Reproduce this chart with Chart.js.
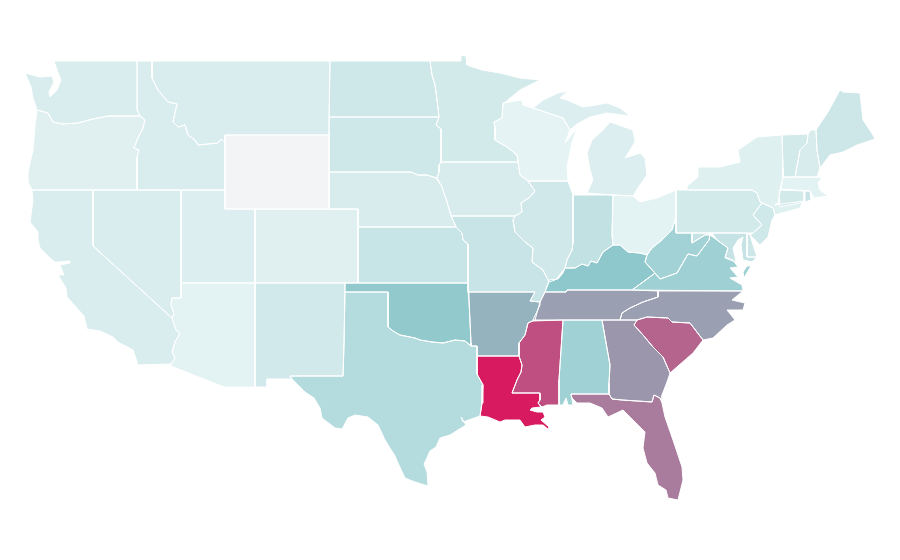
<!DOCTYPE html>
<html><head><meta charset="utf-8">
<style>html,body{margin:0;padding:0;background:#fff}canvas{display:block}</style>
<script src="https://cdn.jsdelivr.net/npm/chart.js@4"></script>
</head><body><canvas id="c" width="900" height="560"></canvas>
<script>
// State outlines in map units
const WA=[[54,61],[57,70],[60,78],[61,80],[57,90],[50,97],[49,92],[54,82],[52,76],[40,77],[25,73],[31,87],[33,98],[37,110],[48,113],[53,122],[62,124],[78,123],[93,119],[108,116],[140,116],[137,110],[137,61]];
const OR=[[37,110],[48,113],[53,122],[62,124],[78,123],[93,119],[108,116],[140,116],[145,120],[143,128],[138,138],[134,148],[139,150],[137,157],[137,190],[32,190],[28,182],[28,172],[33,150],[35,125]];
const CA=[[32,190],[93,190],[93,246],[172,318],[176,330],[180,333],[175,342],[172,352],[175,358],[171,364],[138,365],[133,350],[118,342],[113,337],[100,331],[87,329],[84,316],[67,297],[66,288],[58,275],[60,275],[64,275],[60,265],[70,263],[70,261],[58,262],[55,262],[50,258],[40,248],[38,240],[38,232],[30,222],[33,200]];
const NV=[[93,190],[181,190],[181,298],[172,298],[171,305],[174,314],[172,318],[93,246]];
const UT=[[181,190],[225,190],[225,209],[255,209],[255,283],[181,283]];
const AZ=[[181,283],[255,283],[255,387],[224,387],[171,366],[171,364],[175,358],[172,352],[175,342],[180,333],[176,330],[172,318],[174,314],[171,305],[172,298],[181,298]];
const NM=[[255,283],[345,283],[344,344],[343,376],[290,376],[292,379],[267,379],[267,387],[255,387]];
const TX=[[345,292],[388,292],[388,327],[393,331],[400,335],[405,336],[415,338],[420,340],[432,342],[443,343],[455,340],[465,341],[471,346],[477,346],[477,374],[483,385],[482,403],[480,416],[463,422],[461,417],[466,425],[450,435],[440,438],[436,447],[430,451],[426,460],[424,464],[427,472],[428,486],[415,482],[405,478],[398,463],[395,456],[385,440],[378,425],[368,417],[355,415],[348,418],[342,429],[335,428],[322,418],[320,408],[314,398],[305,392],[292,379],[290,376],[343,376],[344,344]];
const OK_=[[345,283],[468,283],[468,292],[469,300],[471,343],[471,346],[465,341],[455,340],[443,343],[432,342],[420,340],[415,338],[405,336],[400,335],[393,331],[388,327],[388,292],[345,292]];
const KS=[[358,227],[456,227],[462,233],[463,240],[468,244],[468,283],[358,283]];
const NE=[[329,172],[411,172],[418,175],[427,175],[436,178],[442,187],[447,202],[451,215],[456,227],[358,227],[358,209],[329,209]];
const CO=[[255,209],[358,209],[358,283],[255,283]];
const WY=[[225,135],[329,135],[329,209],[225,209]];
const MT=[[152,61],[330,61],[329,135],[225,135],[225,143],[221,139],[218,143],[198,145],[195,140],[188,135],[185,125],[178,127],[173,122],[175,113],[177,104],[168,102],[158,90],[152,78]];
const ID=[[137,61],[152,61],[152,78],[158,90],[168,102],[177,104],[175,113],[173,122],[178,127],[185,125],[188,135],[195,140],[198,145],[218,143],[221,139],[225,143],[225,190],[137,190],[137,157],[139,150],[134,148],[138,138],[143,128],[145,120],[140,116],[137,110]];
const ND=[[330,61],[430,61],[432,75],[435,85],[437,100],[439,117],[329,117]];
const SD=[[329,117],[439,117],[436,125],[441,129],[441,162],[439,165],[439,172],[437,178],[427,175],[418,175],[411,172],[329,172]];
const MN=[[430,61],[461,61],[461,55],[466,56],[467,65],[482,70],[500,73],[520,78],[540,80],[520,90],[503,104],[502,118],[494,122],[495,127],[495,140],[507,147],[517,155],[518,162],[441,162],[441,129],[436,125],[439,117],[437,100],[435,85],[432,75]];
const WI=[[503,103],[522,100],[523,105],[533,108],[548,113],[563,118],[570,130],[565,143],[577,128],[572,143],[567,167],[568,181],[528,181],[520,175],[518,162],[517,155],[507,147],[495,140],[495,127],[494,122],[502,118]];
const IA=[[441,162],[518,162],[520,175],[528,181],[535,191],[530,197],[521,203],[522,212],[515,216],[451,216],[447,202],[442,187],[437,178],[439,172],[439,165]];
const IL=[[528,181],[568,181],[573,195],[573,243],[572,250],[567,260],[565,268],[558,277],[555,280],[549,282],[543,270],[532,262],[533,248],[525,242],[515,232],[513,220],[515,216],[522,212],[521,203],[530,197],[535,191]];
const MO=[[451,216],[515,216],[513,220],[515,232],[525,242],[533,248],[532,262],[543,270],[549,282],[545,292],[540,302],[530,301],[535,292],[468,292],[468,244],[463,240],[462,233],[456,227]];
const AR=[[469,292],[535,292],[530,301],[540,302],[535,320],[528,323],[525,335],[519,343],[519,356],[477,356],[477,346],[471,346],[471,343],[469,300]];
const LA=[[477,356],[519,356],[522,365],[521,372],[517,380],[512,393],[540,393],[540,400],[538,403],[541,407],[532,408],[530,410],[537,412],[543,412],[545,417],[541,420],[549,427],[549,430],[543,425],[535,425],[525,427],[520,420],[510,420],[505,420],[500,422],[488,417],[480,416],[482,403],[483,385],[477,374]];
const MS=[[532,321],[563,320],[559,380],[559,405],[547,405],[542,407],[538,403],[540,400],[540,393],[512,393],[517,380],[521,372],[522,365],[519,356],[519,343],[525,335],[528,323]];
const AL=[[563,320],[602,320],[610,365],[609,383],[609,394],[571,394],[573,405],[568,405],[566,398],[563,405],[559,405],[559,380]];
const GA=[[602,320],[637,320],[634,325],[643,335],[653,347],[663,357],[670,373],[667,382],[662,395],[662,401],[660,398],[654,395],[652,402],[637,401],[622,400],[612,399],[609,394],[609,383],[610,365]];
const FL=[[571,394],[609,394],[612,399],[622,400],[637,401],[652,402],[654,395],[660,398],[662,403],[665,417],[673,440],[682,467],[683,480],[678,500],[668,498],[666,490],[658,485],[655,473],[647,463],[643,448],[645,432],[633,420],[623,410],[608,417],[602,408],[590,403],[577,403],[572,398]];
const SC=[[637,320],[647,317],[668,318],[672,322],[690,323],[703,340],[693,353],[670,373],[663,357],[653,347],[643,335],[634,325]];
const NC=[[658,291],[743,291],[732,300],[745,303],[743,310],[727,310],[735,320],[727,325],[713,338],[703,340],[690,323],[672,322],[668,318],[647,317],[637,320],[620,320],[622,313],[630,308],[643,302],[658,297]];
const TN=[[545,292],[566,292],[567,290],[632,290],[658,291],[658,297],[643,302],[630,308],[622,313],[620,320],[533,320],[540,305],[540,302]];
const KY=[[549,280],[558,279],[563,273],[565,268],[575,268],[582,264],[588,266],[591,261],[597,263],[603,252],[613,245],[620,245],[628,252],[640,253],[647,255],[645,262],[655,273],[643,282],[632,290],[567,290],[566,292],[545,292]];
const VA=[[632,290],[643,282],[655,273],[660,279],[677,273],[688,254],[697,256],[709,240],[710,235],[717,240],[728,248],[725,257],[733,260],[738,267],[730,268],[738,277],[730,278],[742,285],[743,291]];
const VAE=[[751,266],[744,278],[743,272],[747,266]];
const WV=[[676,217],[676,233],[692,233],[692,243],[705,235],[710,235],[709,240],[697,256],[688,254],[677,273],[660,279],[655,273],[645,262],[647,255],[652,248],[662,240],[672,230]];
const IN_=[[573,195],[613,195],[612,235],[613,245],[603,252],[597,263],[591,261],[588,266],[582,264],[575,268],[565,268],[567,260],[572,250],[573,243]];
const OH=[[613,195],[633,196],[640,202],[657,198],[676,190],[676,217],[672,230],[662,240],[652,248],[647,255],[640,253],[628,252],[620,245],[613,245],[612,235]];
const MIL=[[587,193],[613,195],[633,196],[640,185],[647,175],[645,158],[640,153],[625,158],[635,142],[633,130],[610,122],[603,130],[592,140],[587,153],[590,170],[593,180]];
const MIU=[[533,108],[543,100],[558,93],[568,91],[560,98],[567,100],[583,107],[590,106],[607,103],[620,108],[630,116],[607,113],[590,117],[577,124],[570,130],[563,118],[548,113]];
const PA=[[676,190],[687,190],[752,190],[757,193],[760,202],[762,203],[753,215],[762,225],[753,233],[676,233]];
const NY=[[687,190],[687,186],[698,177],[698,167],[720,167],[740,162],[738,150],[757,137],[782,135],[783,168],[783,177],[778,203],[775,205],[803,201],[800,208],[775,215],[773,208],[760,202],[757,193],[752,190]];
const NJ=[[762,203],[773,208],[775,215],[772,220],[768,237],[760,245],[750,235],[753,233],[762,225],[753,215]];
const DE=[[747,233],[750,235],[757,257],[747,257]];
const MD=[[692,233],[747,233],[747,257],[757,257],[752,262],[743,260],[741,245],[743,237],[738,240],[733,248],[736,262],[725,258],[728,248],[717,240],[712,233],[705,235],[692,243]];
const VT=[[782,135],[808,134],[807,143],[800,150],[795,177],[783,177],[783,168]];
const NH=[[808,134],[811,130],[816,130],[817,150],[820,168],[817,177],[795,177],[800,150],[807,143]];
const ME=[[816,130],[828,112],[840,90],[843,92],[860,93],[863,120],[873,135],[875,139],[857,145],[843,152],[830,155],[820,168],[817,150]];
const MA=[[783,177],[817,177],[822,178],[818,183],[820,190],[828,196],[814,198],[810,191],[780,189]];
const CT=[[779,190],[804,191],[804,202],[780,207]];
const RI=[[805,191],[810,191],[811,200],[805,202]];

const stateNames=["WA","OR","CA","NV","UT","AZ","NM","TX","OK","KS","NE","CO","WY","MT","ID","ND","SD","MN","WI","IA","IL","MO","AR","LA","MS","AL","GA","FL","SC","NC","TN","KY","VA","VA","WV","IN","OH","MI","MI","PA","NY","NJ","DE","MD","VT","NH","ME","MA","CT","RI"];
const stateOutlines=[WA,OR,CA,NV,UT,AZ,NM,TX,OK_,KS,NE,CO,WY,MT,ID,ND,SD,MN,WI,IA,IL,MO,AR,LA,MS,AL,GA,FL,SC,NC,TN,KY,VA,VAE,WV,IN_,OH,MIL,MIU,PA,NY,NJ,DE,MD,VT,NH,ME,MA,CT,RI];
const stateValues=[12.5,9,12.5,12.5,11,7.5,16,31,48.5,21.5,13,9,0,12.5,12.5,18,18,15.5,6.5,13,17,21,56,100,85,41,64.5,72,79,62,62,50,41.5,41.5,40,24.5,7.5,11,11,15.5,9.5,17.5,18.5,22.5,15.5,13,18.5,7.5,15.5,21];

const colorStops=[[0,[243,244,246]],[5,[232,244,245]],[50,[142,200,204]],[64.5,[156,150,173]],[100,[216,27,96]]];
function colorFor(v){
  for(let i=1;i<colorStops.length;i++){
    const a=colorStops[i-1],b=colorStops[i];
    if(v<=b[0]){
      const t=(v-a[0])/(b[0]-a[0]);
      const c=a[1].map((n,k)=>Math.round(n+(b[1][k]-n)*t));
      return `rgb(${c[0]},${c[1]},${c[2]})`;
    }
  }
  return 'rgb(216,27,96)';
}

const regionFill={
  id:'regionFill',
  beforeDatasetsDraw(chart){
    const ctx=chart.ctx;
    chart.data.datasets.forEach((ds,i)=>{
      const pts=chart.getDatasetMeta(i).data;
      ctx.beginPath();
      pts.forEach((p,k)=>k?ctx.lineTo(p.x,p.y):ctx.moveTo(p.x,p.y));
      ctx.closePath();
      ctx.fillStyle=ds.regionColor;
      ctx.fill();
    });
  }
};

new Chart(document.getElementById('c'),{
  type:'scatter',
  data:{datasets:stateOutlines.map((o,i)=>({
    label:stateNames[i],
    data:o.concat([o[0]]).map(p=>({x:p[0],y:p[1]})),
    regionColor:colorFor(stateValues[i]),
    showLine:true,
    tension:0,
    borderColor:'#ffffff',
    borderWidth:1,
    pointRadius:0,
    pointHoverRadius:0,
    clip:false
  }))},
  options:{
    responsive:false,
    animation:false,
    layout:{padding:0},
    plugins:{legend:{display:false},tooltip:{enabled:false},title:{display:false}},
    scales:{
      x:{type:'linear',min:0,max:900,display:false},
      y:{type:'linear',min:0,max:560,reverse:true,display:false}
    }
  },
  plugins:[regionFill]
});
</script></body></html>
